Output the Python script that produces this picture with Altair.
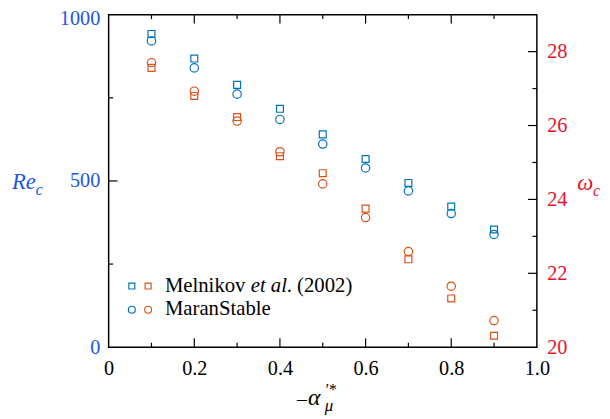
import altair as alt
import pandas as pd

# ---------------- data ----------------
alpha = [0.1, 0.2, 0.3, 0.4, 0.5, 0.6, 0.7, 0.8, 0.9]
re_melnikov = [942, 868, 789, 717, 640, 566, 494, 423, 354]
re_maran = [921, 840, 761, 685, 611, 539, 470, 402, 339]
om_melnikov = [27.56, 26.80, 26.23, 25.17, 24.71, 23.75, 22.38, 21.32, 20.31]
om_maran = [27.70, 26.93, 26.12, 25.29, 24.42, 23.51, 22.59, 21.65, 20.72]

x_ticks_major = [0.2, 0.4, 0.6, 0.8]
x_ticks_minor = [0.1, 0.3, 0.5, 0.7, 0.9]
re_ticks_major = [500]
re_ticks_minor = [250, 750]
om_ticks_major = [22, 24, 26, 28]
om_ticks_minor = [21, 23, 25, 27]
x_labels = [0, 0.2, 0.4, 0.6, 0.8, 1.0]
re_labels = [0, 500, 1000]
om_labels = [20, 22, 24, 26, 28]

# ---------------- style ----------------
W, H = 434, 337
SERIF = "Liberation Serif"
BLUE = "#0072BD"
ORANGE = "#D95319"
LBLUE = "#2255E6"
LRED = "#E8112D"
MAJ, MIN = 9, 4.5

xs = alt.Scale(domain=[0, 1])
ys_re = alt.Scale(domain=[0, 1000])
ys_om = alt.Scale(domain=[20, 29])

df_re_m = pd.DataFrame({"a": alpha, "v": re_melnikov})
df_re_s = pd.DataFrame({"a": alpha, "v": re_maran})
df_om_m = pd.DataFrame({"a": alpha, "v": om_melnikov})
df_om_s = pd.DataFrame({"a": alpha, "v": om_maran})
df_xl = pd.DataFrame({"a": x_labels})
dummy = pd.DataFrame({"d": [0]})

x_axis = alt.Axis(values=x_labels, ticks=False, tickSize=0, domain=False, grid=False,
                  labelFont=SERIF, labelFontSize=20.5, labelColor="black", labelPadding=12,
                  labelFlush=False,
                  labelExpr="datum.value == 0 ? '0' : format(datum.value, '.1f')", title=None)
re_axis = alt.Axis(values=re_labels, ticks=False, tickSize=0, domain=False, grid=False,
                   labelFont=SERIF, labelFontSize=20.5, labelColor=LBLUE, labelPadding=9,
                   format="d", labelOffset={"expr": "datum.value == 1000 ? 4 : 0"},
                   title=None, orient="left")
om_axis = alt.Axis(values=om_labels, ticks=False, tickSize=0, domain=False, grid=False,
                   labelFont=SERIF, labelFontSize=20.5, labelColor=LRED, labelPadding=10,
                   format="d", title=None, orient="right")


def pts(df, scale, shape, size, color, axis=None):
    return alt.Chart(df).mark_point(shape=shape, size=size, filled=False,
                                    strokeWidth=1.2, color=color, opacity=1).encode(
        x=alt.X("a:Q", scale=xs, axis=None),
        y=alt.Y("v:Q", scale=scale, axis=axis),
    )


def yticks(vals, scale, side, length):
    d = pd.DataFrame({"v": vals})
    if side == "left":
        x1, x2 = 0, length
    else:
        x1, x2 = W - length, W
    return alt.Chart(d).mark_rule(color="black", strokeWidth=1.2).encode(
        y=alt.Y("v:Q", scale=scale, axis=None), x=alt.value(x1), x2=alt.value(x2))


def xticks(vals, side, length):
    d = pd.DataFrame({"v": vals})
    if side == "bottom":
        y1, y2 = H - length, H
    else:
        y1, y2 = 0, length
    return alt.Chart(d).mark_rule(color="black", strokeWidth=1.2).encode(
        x=alt.X("v:Q", scale=xs, axis=None), y=alt.value(y1), y2=alt.value(y2))


def txt(s, x, y, size, color="black", style="normal"):
    return alt.Chart(dummy).mark_text(text=s, font=SERIF, fontSize=size, fontStyle=style,
                                      color=color, align="left", baseline="alphabetic").encode(
        x=alt.value(x), y=alt.value(y))


def sym(shape, size, color, x, y):
    return alt.Chart(dummy).mark_point(shape=shape, size=size, filled=False, strokeWidth=1.2,
                                       color=color, opacity=1).encode(
        x=alt.value(x), y=alt.value(y))


# invisible layer that carries the bottom x axis
x_axis_layer = alt.Chart(df_xl).mark_point(opacity=0).encode(
    x=alt.X("a:Q", scale=xs, axis=x_axis), y=alt.value(0))

layers = [
    x_axis_layer,
    pts(df_re_m, ys_re, "square", 49, BLUE, axis=re_axis),
    pts(df_re_s, ys_re, "circle", 72, BLUE),
    pts(df_om_m, ys_om, "square", 49, ORANGE, axis=om_axis),
    pts(df_om_s, ys_om, "circle", 72, ORANGE),
    yticks(re_ticks_major, ys_re, "left", MAJ),
    yticks(re_ticks_minor, ys_re, "left", MIN),
    yticks(om_ticks_major, ys_om, "right", MAJ),
    yticks(om_ticks_minor, ys_om, "right", MIN),
    xticks(x_ticks_major, "bottom", MAJ),
    xticks(x_ticks_minor, "bottom", MIN),
    xticks(x_ticks_major, "top", MAJ),
    xticks(x_ticks_minor, "top", MIN),
    # axis titles
    txt("Re", -98, 177, 23, LBLUE, "italic"),
    txt("c", -74, 183, 16, LBLUE, "italic"),
    txt("ω", 475, 178, 23, LRED, "italic"),
    txt("c", 491, 184, 16, LRED, "italic"),
    txt("–", 191, 396, 20),
    txt("α", 202, 396, 24, "black", "italic"),
    txt("′*", 219, 385, 16, "black", "italic"),
    txt("μ", 219, 402, 17, "black", "italic"),
    # legend
    sym("square", 36, BLUE, 23.5, 275),
    sym("square", 36, ORANGE, 40, 275),
    sym("circle", 49, BLUE, 23.5, 299),
    sym("circle", 49, ORANGE, 40, 299),
    txt("Melnikov", 57, 281, 21),
    txt("et al", 144, 281, 21, "black", "italic"),
    txt(". (2002)", 180.5, 281, 21),
    txt("MaranStable", 57, 304, 21),
]

chart = alt.layer(*layers).resolve_scale(y="independent").resolve_axis(
    x="independent").properties(
    width=W, height=H,
    autosize=alt.AutoSizeParams(type="none"),
    padding={"left": 102, "top": 4, "right": 66, "bottom": 70},
).configure_view(stroke="black", strokeWidth=1.5)

chart.save("out.html", embed_options={"renderer": "svg", "actions": False})
